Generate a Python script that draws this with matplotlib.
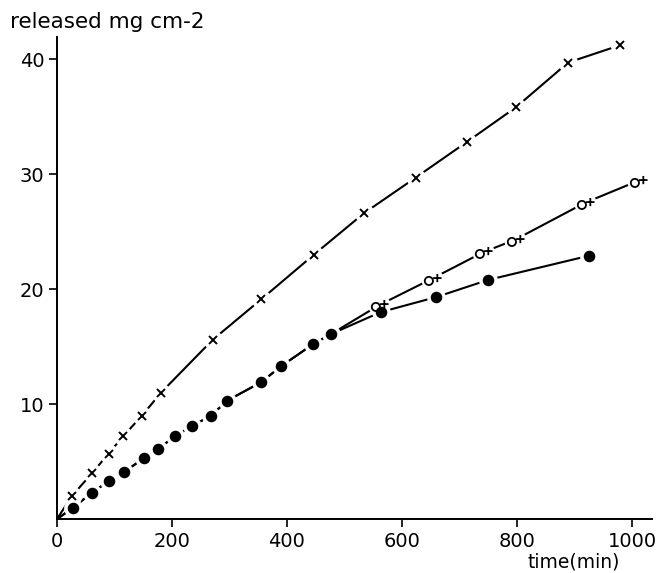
import numpy as np
import matplotlib.pyplot as plt
from matplotlib.path import Path

# release curves, time in min, amount in mg cm-2
t_cross = [26, 61, 90, 115, 148, 181, 271, 355, 447, 534, 624, 713, 798, 889, 979]
y_cross = [2.0, 4.0, 5.7, 7.2, 9.0, 11.0, 15.6, 19.1, 23.0, 26.6, 29.7, 32.8, 35.8, 39.7, 41.2]

t_dot = [28, 61, 90, 117, 151, 176, 205, 235, 268, 296, 355, 390, 445, 477, 563, 659, 750, 925]
y_dot = [1.0, 2.3, 3.3, 4.1, 5.3, 6.1, 7.2, 8.1, 9.0, 10.3, 11.9, 13.3, 15.2, 16.1, 18.0, 19.3, 20.8, 22.9]

t_op = [560, 652, 741, 797, 918, 1010]
y_op = [18.6, 20.9, 23.2, 24.3, 27.5, 29.4]
n_shared = 14  # o+ run follows the dot curve up to 477 min

xticks = [0, 200, 400, 600, 800, 1000]
yticks = [10, 20, 30, 40]

# small circle with a plus beside it
circ = Path.circle(center=(-0.3, -0.12), radius=0.34)
plus = Path([(0.05, 0.12), (0.75, 0.12), (0.4, -0.22), (0.4, 0.46)],
            [Path.MOVETO, Path.LINETO, Path.MOVETO, Path.LINETO])
op_marker = Path.make_compound_path(circ, plus)

plt.rcParams['font.family'] = 'DejaVu Sans'
fig = plt.figure(figsize=(6.62, 5.73), dpi=100)
ax = fig.add_axes([0.086, 0.094, 0.899, 0.841])

lw = 1.5
tc = [0] + t_cross
yc = [0] + y_cross
td = [0] + t_dot
yd = [0] + y_dot
to = [0] + t_dot[:n_shared] + t_op
yo = [0] + y_dot[:n_shared] + y_op

ax.plot(tc, yc, color='black', lw=lw, zorder=2)
ax.plot(td, yd, color='black', lw=lw, zorder=2)
ax.plot(to, yo, color='black', lw=lw, zorder=2)

# white halos break the lines around each marker
ax.plot(t_cross, y_cross, ls='none', marker='o', ms=14, mfc='white', mec='none', zorder=3)
ax.plot(t_dot, y_dot, ls='none', marker='o', ms=13.5, mfc='white', mec='none', zorder=3)
ax.plot(t_op, y_op, ls='none', marker='o', ms=16, mfc='white', mec='none', zorder=3)

ax.plot(t_cross, y_cross, ls='none', marker='x', ms=6, mew=1.4, color='black', zorder=4)
ax.plot(t_dot, y_dot, ls='none', marker='o', ms=7.3, color='black', zorder=4)
ax.plot(t_op, y_op, ls='none', marker=op_marker, ms=13, mew=1.3, mfc='none', mec='black', zorder=4)

ax.set_xlim(0, 1035)
ax.set_ylim(0, 41.9)
ax.set_xticks(xticks)
ax.set_yticks(yticks)
for s in ['top', 'right']:
    ax.spines[s].set_visible(False)
for s in ['left', 'bottom']:
    ax.spines[s].set_linewidth(1.4)
ax.tick_params(direction='out', length=6, width=1.2, labelsize=14, pad=3)

fig.text(0.015, 0.962, 'released mg cm-2', fontsize=15.5, ha='left', va='center')
fig.text(0.937, 0.02, 'time(min)', fontsize=13.5, ha='right', va='center')

fig.savefig('out.png', dpi=100)
